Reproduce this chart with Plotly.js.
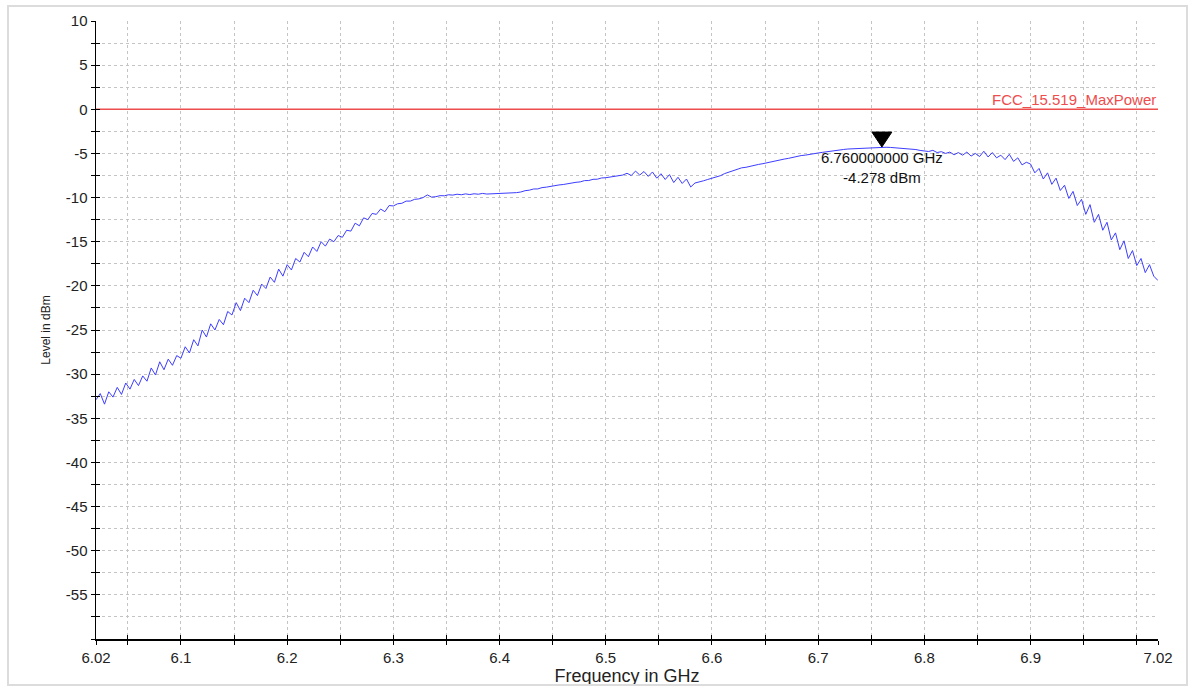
<!DOCTYPE html>
<html>
<head>
<meta charset="utf-8">
<script src="https://cdn.plot.ly/plotly-3.0.1.min.js"></script>
<style>
  html, body { margin: 0; padding: 0; background: #fff; }
  #wrap { position: relative; width: 1189px; height: 686px; }
  #chart { position: absolute; left: 0; top: 0; width: 1189px; height: 686px; }
  #frame { position: absolute; left: 7px; top: 5px; width: 1177px; height: 677px;
           border: 2px solid #dcdcdc; pointer-events: none; }
</style>
</head>
<body>
<div id="wrap"><div id="chart"></div><div id="frame"></div></div>
<script>
// Sweep definition (start / step in GHz) and measured levels in dBm, one value per sweep point
const sweepStartGHz = 6.02;
const sweepStepGHz = 0.004;
const levelDbm = [
  // 6.020 - 6.096
  -32.9, -32.2, -33.4, -32.0, -32.6, -31.5, -32.3, -31.0, -31.7, -30.6,
  -31.3, -30.2, -30.8, -29.3, -30.1, -28.6, -29.5, -28.3, -29.0, -27.9,
  // 6.100 - 6.196
  -28.2, -26.9, -27.6, -26.1, -26.8, -25.0, -25.8, -24.3, -25.0, -23.8,
  -24.4, -22.9, -23.3, -21.9, -22.8, -21.4, -21.9, -20.5, -21.1, -19.8,
  -20.3, -19.0, -19.6, -18.1, -18.9,
  // 6.200 - 6.296
  -17.6, -18.2, -16.9, -17.3, -16.2, -16.7, -15.6, -16.1, -15.0, -15.5,
  -14.7, -15.0, -14.3, -14.5, -13.7, -13.8, -12.9, -13.2, -12.3, -12.5,
  -11.8, -11.9, -11.3, -11.6, -10.9,
  // 6.300 - 6.396
  -10.95, -10.7, -10.65, -10.4, -10.4, -10.2, -10.15, -10.0, -9.7, -9.95,
  -9.9, -9.78, -9.8, -9.68, -9.72, -9.62, -9.68, -9.58, -9.66, -9.57,
  -9.62, -9.53, -9.6, -9.58, -9.55,
  // 6.400 - 6.496
  -9.57, -9.52, -9.5, -9.48, -9.44, -9.37, -9.22, -9.16, -9.03, -9.02,
  -8.87, -8.82, -8.72, -8.67, -8.57, -8.52, -8.42, -8.37, -8.27, -8.22,
  -8.08, -8.07, -7.93, -7.92, -7.78,
  // 6.500 - 6.596
  -7.75, -7.68, -7.62, -7.55, -7.45, -7.25, -7.5, -7.0, -7.45, -7.05,
  -7.6, -7.1, -7.8, -7.3, -7.95, -7.4, -8.3, -7.7, -8.4, -7.9,
  -8.8, -8.35, -8.25, -8.1, -7.95,
  // 6.600 - 6.696
  -7.8, -7.62, -7.52, -7.28, -7.12, -6.93, -6.82, -6.63, -6.57, -6.44,
  -6.36, -6.24, -6.16, -6.04, -5.96, -5.84, -5.76, -5.64, -5.56, -5.44,
  -5.36, -5.24, -5.19, -5.09, -5.03,
  // 6.700 - 6.796
  -4.95, -4.88, -4.8, -4.72, -4.66, -4.6, -4.55, -4.5, -4.47, -4.43,
  -4.4, -4.37, -4.34, -4.31, -4.3, -4.278, -4.3, -4.32, -4.36, -4.37,
  -4.44, -4.46, -4.55, -4.56, -4.66,
  // 6.800 - 6.896
  -4.7, -4.78, -4.65, -4.9, -4.8, -5.0, -4.85, -5.15, -4.9, -5.2,
  -4.85, -5.3, -5.0, -5.35, -4.75, -5.4, -4.9, -5.5, -5.2, -5.7,
  -5.1, -5.9, -5.5, -6.3, -6.0,
  // 6.900 - 7.020
  -6.2, -7.2, -6.7, -7.9, -7.2, -8.5, -7.8, -9.2, -8.6, -10.1,
  -9.3, -10.9, -10.2, -11.9, -10.8, -12.8, -11.9, -13.7, -12.8, -14.8,
  -14.0, -15.9, -14.9, -16.9, -16.0, -17.7, -16.9, -18.5, -17.6, -18.9,
  -19.4
];
const freqGHz = levelDbm.map((_, i) => +(sweepStartGHz + i * sweepStepGHz).toFixed(3));

// Limit line
const limitName = 'FCC_15.519_MaxPower';
const limitFreq = [6.02, 7.02];
const limitLevel = [0, 0];

// Marker
const markerFreq = 6.76;
const markerLevel = -4.278;
const markerText = '6.760000000 GHz<br>-4.278 dBm';

// Axis ticks
const xTickVals = [6.02, 6.05, 6.1, 6.15, 6.2, 6.25, 6.3, 6.35, 6.4, 6.45, 6.5, 6.55, 6.6, 6.65, 6.7, 6.75, 6.8, 6.85, 6.9, 6.95, 7.0, 7.02];
const xTickText = ['6.02', '', '6.1', '', '6.2', '', '6.3', '', '6.4', '', '6.5', '', '6.6', '', '6.7', '', '6.8', '', '6.9', '', '', '7.02'];
const yTickVals = [-60, -57.5, -55, -52.5, -50, -47.5, -45, -42.5, -40, -37.5, -35, -32.5, -30, -27.5, -25, -22.5, -20, -17.5, -15, -12.5, -10, -7.5, -5, -2.5, 0, 2.5, 5, 7.5, 10];
const yTickText = ['', '', '-55', '', '-50', '', '-45', '', '-40', '', '-35', '', '-30', '', '-25', '', '-20', '', '-15', '', '-10', '', '-5', '', '0', '', '5', '', '10'];

const FONT = 'Liberation Sans, Arial, sans-serif';
const xRange = [6.02, 7.02];
const yRange = [-60, 10];

const traces = [
  {
    x: limitFreq, y: limitLevel, type: 'scatter', mode: 'lines',
    line: { color: '#ee4d4d', width: 1.5 }, hoverinfo: 'skip', xaxis: 'x', yaxis: 'y'
  },
  {
    x: freqGHz, y: levelDbm, type: 'scatter', mode: 'lines',
    line: { color: '#3d3dff', width: 1 }, xaxis: 'x', yaxis: 'y'
  },
  { x: xRange, y: yRange, type: 'scatter', mode: 'none', xaxis: 'x2', yaxis: 'y2', hoverinfo: 'skip' }
];

const layout = {
  width: 1189, height: 686,
  margin: { l: 96, r: 31, t: 21, b: 47 },
  paper_bgcolor: '#ffffff', plot_bgcolor: '#ffffff',
  showlegend: false,
  font: { family: FONT, size: 15, color: '#222' },
  xaxis: {
    range: xRange, tickmode: 'array', tickvals: xTickVals, ticktext: xTickText,
    ticks: 'outside', ticklen: 4, tickcolor: '#000', tickwidth: 1,
    showline: true, linecolor: '#000', linewidth: 1.5, mirror: false,
    showgrid: true, gridcolor: '#c4c4c4', griddash: 'dot', gridwidth: 1,
    zeroline: false, tickfont: { family: FONT, size: 15, color: '#222' },
    title: { text: 'Frequency in GHz', font: { family: FONT, size: 18, color: '#222' }, standoff: 13 }
  },
  yaxis: {
    range: yRange, tickmode: 'array', tickvals: yTickVals, ticktext: yTickText,
    ticks: 'outside', ticklen: 4, tickcolor: '#000', tickwidth: 1,
    showline: true, linecolor: '#000', linewidth: 1.5,
    showgrid: true, gridcolor: '#c4c4c4', griddash: 'dot', gridwidth: 1,
    zeroline: false, tickfont: { family: FONT, size: 15, color: '#222' },
    title: { text: 'Level in dBm', font: { family: FONT, size: 12, color: '#222' }, standoff: 12 }
  },
  xaxis2: {
    range: xRange, overlaying: 'x', anchor: 'y2', tickmode: 'array', tickvals: xTickVals,
    ticks: 'inside', ticklen: 4, tickcolor: '#000', showticklabels: false,
    showgrid: false, showline: false, zeroline: false
  },
  yaxis2: {
    range: yRange, overlaying: 'y', anchor: 'x2', side: 'left', tickmode: 'array', tickvals: yTickVals,
    ticks: 'inside', ticklen: 4, tickcolor: '#000', showticklabels: false,
    showgrid: false, showline: false, zeroline: false
  },
  shapes: [
    {
      type: 'path', xref: 'x', yref: 'y',
      xsizemode: 'pixel', ysizemode: 'pixel',
      xanchor: markerFreq, yanchor: markerLevel,
      path: 'M -10,15 L 10,15 L 0,0 Z',
      fillcolor: '#000', line: { color: '#000', width: 1 }
    }
  ],
  annotations: [
    {
      x: markerFreq, y: markerLevel, xref: 'x', yref: 'y', text: markerText,
      showarrow: false, xanchor: 'center', yanchor: 'top', yshift: 0,
      font: { family: FONT, size: 15, color: '#111' }, align: 'center'
    },
    {
      x: limitFreq[1], y: limitLevel[1], xref: 'x', yref: 'y', text: limitName,
      showarrow: false, xanchor: 'right', yanchor: 'bottom', yshift: -1,
      font: { family: FONT, size: 15, color: '#ee4d4d' }
    }
  ]
};

Plotly.newPlot('chart', traces, layout, { displayModeBar: false, staticPlot: true });
</script>
</body>
</html>
